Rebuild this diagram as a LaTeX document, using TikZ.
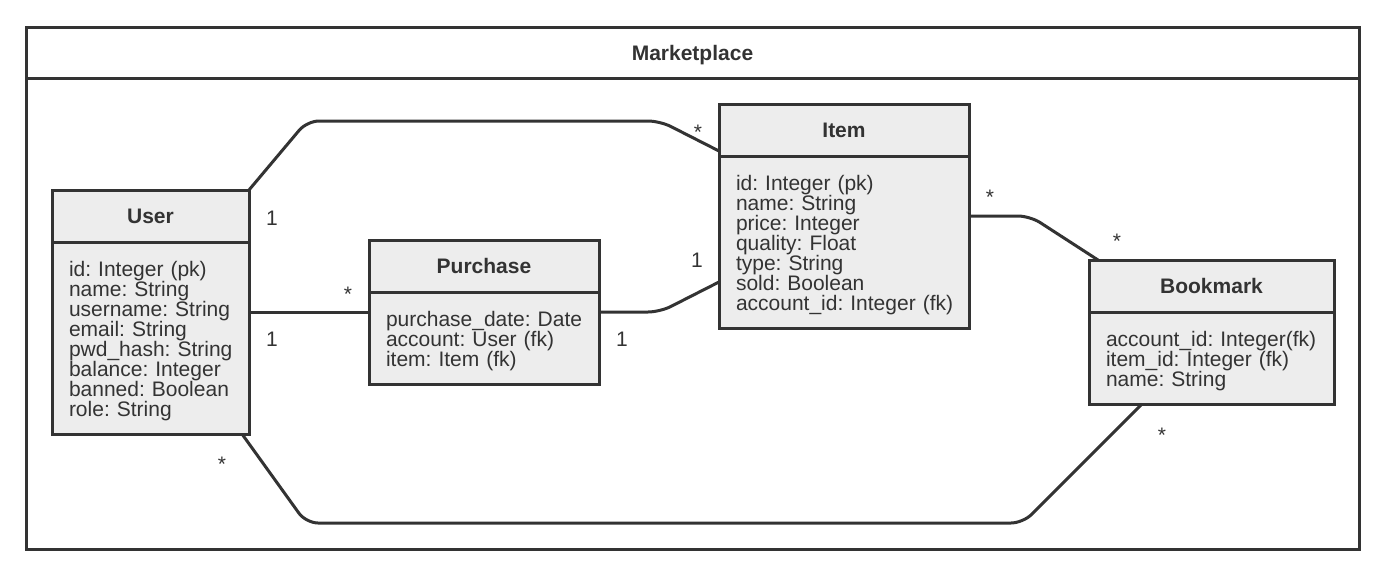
\documentclass[tikz,border=0pt]{standalone}
\usepackage{fontspec}
\setmainfont{Liberation Sans}
\usepackage{tikz}
\usetikzlibrary{positioning}
\definecolor{ink}{HTML}{333333}
\definecolor{boxgray}{HTML}{EDEDED}
\newcommand{\attrlist}[1]{\vbox{\vskip7pt\let\\\cr\halign{##\hfil\cr#1\crcr}}}

\begin{document}
\frenchspacing
\begin{tikzpicture}[x=1pt, y=-1pt,
    every node/.style={text=ink, font=\fontsize{21}{20}\selectfont},
    head/.style={rectangle, draw=ink, fill=boxgray, line width=3pt, outer sep=0pt, inner sep=0pt, minimum height=52pt, text depth=0pt, font=\fontsize{21}{20}\selectfont\bfseries},
    body/.style={rectangle, draw=ink, fill=boxgray, line width=3pt, outer sep=0pt, inner xsep=17pt, inner ysep=0pt, align=left},
    frame/.style={rectangle, draw=ink, line width=3pt, outer sep=0pt, inner sep=0pt, minimum width=1333pt},
    link/.style={draw=ink, line width=3pt, rounded corners=12pt},
    mult/.style={anchor=base, inner sep=0pt}
]
\useasboundingbox (0,0) rectangle (1385,576);

% Package frame
\node[frame, minimum height=51pt, text depth=0pt, font=\fontsize{21}{20}\selectfont\bfseries] (title) at (692.5,52.5) {Marketplace};
\node[frame, below=0pt of title, minimum height=471pt] (package) {};

% Define nodes
\node[head, minimum width=197pt] (userhead) at (150.5,216) {User};
\node[body, below=0pt of userhead, text width=163pt, minimum height=192pt] (userbody) {\attrlist{id: Integer (pk)\\name: String\\username: String\\email: String\\pwd\_hash: String\\balance: Integer\\banned: Boolean\\role: String}};

\node[head, minimum width=230pt] (purchhead) at (484,266) {Purchase};
\node[body, below=0pt of purchhead, text width=196pt, minimum height=92pt] (purchbody) {\attrlist{purchase\_date: Date\\account: User (fk)\\item: Item (fk)}};

\node[head, minimum width=250pt] (itemhead) at (844,130) {Item};
\node[body, below=0pt of itemhead, text width=216pt, minimum height=172pt] (itembody) {\attrlist{id: Integer (pk)\\name: String\\price: Integer\\quality: Float\\type: String\\sold: Boolean\\account\_id: Integer (fk)}};

\node[head, minimum width=245pt] (bmhead) at (1211.5,286) {Bookmark};
\node[body, below=0pt of bmhead, text width=211pt, minimum height=92pt] (bmbody) {\attrlist{account\_id: Integer(fk)\\item\_id: Integer (fk)\\name: String}};

% Draw associations
\draw[link] (userhead.north east) -- (307,121) -- (660,121) -- ([yshift=5pt]itemhead.south west);
\draw[link] ([yshift=26pt]userbody.east) -- ([yshift=26pt]purchbody.west);
\draw[link] ([yshift=26pt]purchbody.east) -- (660,312) -- ([yshift=-40pt]itembody.west);
\draw[link] ([yshift=26pt]itembody.east) -- (1030,216) -- ([xshift=9pt]bmhead.north west);
\draw[link] ([xshift=-7pt]userbody.south east) -- (306,523) -- (1023,523) -- ([xshift=53pt]bmbody.south west);

% Multiplicities
\node[mult] (useritemA) at (272,225) {1};
\node[mult] (useritemB) at (698,139) {*};
\node[mult] (userpurchA) at (272,346) {1};
\node[mult] (userpurchB) at (348,301) {*};
\node[mult] (purchitemA) at (622,346) {1};
\node[mult] (purchitemB) at (697,267) {1};
\node[mult] (itembmA) at (990,204) {*};
\node[mult] (itembmB) at (1117,248) {*};
\node[mult] (userbmA) at (222,471) {*};
\node[mult] (userbmB) at (1162,442) {*};

\end{tikzpicture}
\end{document}
